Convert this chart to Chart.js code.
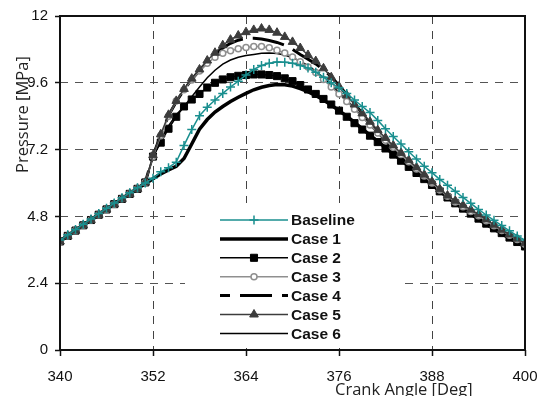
<!DOCTYPE html>
<html>
<head>
<meta charset="utf-8">
<script src="https://cdn.jsdelivr.net/npm/chart.js@4.4.1/dist/chart.umd.min.js"></script>
<style>
  body { margin: 0; background: #fff; }
  canvas { display: block; }
</style>
</head>
<body>
<canvas id="chart" width="538" height="396"></canvas>
<script>
// crank angle, one reading per degree
const angles = [];
for (let a = 340; a <= 400; a++) angles.push(a);

const xTicks = [340, 352, 364, 376, 388, 400];
const yTicks = [0, 2.4, 4.8, 7.2, 9.6, 12];
const yTickLabels = ['0', '2.4', '4.8', '7.2', '9.6', '12'];

const seriesNames = ['Baseline', 'Case 1', 'Case 2', 'Case 3', 'Case 4', 'Case 5', 'Case 6'];

const baseline = [3.95, 4.14, 4.33, 4.52, 4.71, 4.9, 5.09, 5.28, 5.47, 5.65, 5.83, 6.0,
  6.17, 6.4, 6.55, 6.75, 7.35, 7.92, 8.42, 8.72, 8.98, 9.22, 9.45, 9.66, 9.88, 10.08,
  10.22, 10.3, 10.35, 10.34, 10.3, 10.22, 10.13, 9.98, 9.8, 9.6, 9.42, 9.22, 8.98, 8.75,
  8.53, 8.25, 7.95, 7.67, 7.4, 7.12, 6.86, 6.6, 6.37, 6.13, 5.92, 5.7, 5.48, 5.27, 5.05,
  4.85, 4.66, 4.47, 4.28, 4.1, 3.95];
const case1 = [3.92, 4.11, 4.3, 4.49, 4.68, 4.87, 5.06, 5.25, 5.44, 5.62, 5.8, 5.97,
  6.15, 6.33, 6.47, 6.6, 6.88, 7.4, 7.93, 8.28, 8.55, 8.75, 8.93, 9.08, 9.22, 9.35,
  9.44, 9.5, 9.54, 9.53, 9.48, 9.39, 9.28, 9.14, 8.98, 8.8, 8.6, 8.4, 8.18, 7.95,
  7.72, 7.5, 7.27, 7.05, 6.83, 6.6, 6.38, 6.16, 5.94, 5.71, 5.49, 5.28, 5.08, 4.89, 4.7,
  4.52, 4.35, 4.18, 4.02, 3.86, 3.7];
const case2 = [3.9, 4.1, 4.29, 4.48, 4.67, 4.86, 5.05, 5.24, 5.43, 5.61, 5.79, 6.02,
  6.95, 7.45, 7.95, 8.38, 8.75, 9.0, 9.2, 9.43, 9.6, 9.72, 9.8, 9.85, 9.88, 9.9,
  9.9, 9.88, 9.84, 9.76, 9.66, 9.52, 9.36, 9.2, 9.02, 8.82, 8.6, 8.38, 8.15, 7.92,
  7.7, 7.47, 7.24, 7.02, 6.8, 6.58, 6.36, 6.14, 5.93, 5.7, 5.48, 5.27, 5.08, 4.9, 4.72,
  4.54, 4.37, 4.2, 4.04, 3.88, 3.72];
const case3 = [3.9, 4.1, 4.29, 4.48, 4.67, 4.86, 5.05, 5.24, 5.43, 5.61, 5.79, 6.02,
  6.95, 7.7, 8.4, 8.95, 9.35, 9.7, 10.02, 10.3, 10.52, 10.66, 10.75, 10.82, 10.87, 10.9,
  10.9, 10.86, 10.77, 10.67, 10.53, 10.36, 10.17, 9.97, 9.72, 9.45, 9.2, 8.93, 8.65, 8.35,
  8.08, 7.8, 7.54, 7.28, 7.02, 6.76, 6.5, 6.25, 6.0, 5.75, 5.52, 5.32, 5.15, 4.98, 4.82,
  4.64, 4.46, 4.29, 4.12, 3.97, 3.8];
const case4 = [3.9, 4.1, 4.29, 4.48, 4.67, 4.86, 5.05, 5.24, 5.43, 5.61, 5.79, 6.02,
  6.98, 7.72, 8.42, 8.92, 9.35, 9.72, 10.05, 10.35, 10.62, 10.85, 11.02, 11.13, 11.2, 11.2,
  11.17, 11.12, 11.05, 10.95, 10.8, 10.62, 10.45, 10.28, 10.07, 9.82, 9.5, 9.18, 8.85, 8.5,
  8.15, 7.83, 7.53, 7.25, 6.98, 6.72, 6.47, 6.22, 5.98, 5.72, 5.49, 5.28, 5.1, 4.93, 4.76,
  4.58, 4.4, 4.23, 4.07, 3.92, 3.76];
const case5 = [3.9, 4.1, 4.29, 4.48, 4.67, 4.86, 5.05, 5.24, 5.43, 5.61, 5.79, 6.02,
  7.0, 7.75, 8.45, 8.95, 9.38, 9.75, 10.08, 10.4, 10.68, 10.95, 11.15, 11.3, 11.42, 11.5,
  11.55, 11.5, 11.4, 11.25, 11.07, 10.85, 10.6, 10.38, 10.12, 9.8, 9.47, 9.15, 8.82, 8.5,
  8.2, 7.9, 7.62, 7.35, 7.08, 6.82, 6.56, 6.3, 6.05, 5.78, 5.55, 5.36, 5.2, 5.04, 4.87,
  4.69, 4.5, 4.32, 4.15, 4.0, 3.84];
const case6 = [3.9, 4.1, 4.29, 4.48, 4.67, 4.86, 5.05, 5.24, 5.43, 5.61, 5.79, 6.02,
  6.9, 7.55, 8.05, 8.45, 8.75, 9.1, 9.45, 9.78, 10.05, 10.27, 10.42, 10.52, 10.58, 10.62,
  10.66, 10.67, 10.65, 10.6, 10.5, 10.38, 10.22, 10.02, 9.78, 9.52, 9.25, 8.97, 8.68, 8.38,
  8.08, 7.78, 7.5, 7.22, 6.95, 6.68, 6.43, 6.18, 5.94, 5.7, 5.47, 5.26, 5.08, 4.9, 4.73,
  4.55, 4.38, 4.21, 4.05, 3.9, 3.74];

const toPoints = vals => vals.map((v, i) => ({ x: angles[i], y: v }));

const TEAL = '#1a8f8f';

const datasets = [
  { label: seriesNames[0], data: toPoints(baseline), borderColor: TEAL, borderWidth: 1.5,
    pointStyle: 'cross', pointRadius: 4.5, pointBorderColor: TEAL, pointBorderWidth: 1.5, order: 0 },
  { label: seriesNames[1], data: toPoints(case1), borderColor: '#000', borderWidth: 3.5,
    pointRadius: 0, order: 6 },
  { label: seriesNames[2], data: toPoints(case2), borderColor: '#000', borderWidth: 1.5,
    pointStyle: 'rect', pointRadius: 5, pointBackgroundColor: '#000', pointBorderColor: '#000',
    pointBorderWidth: 1, order: 5 },
  { label: seriesNames[3], data: toPoints(case3), borderColor: '#8f8f8f', borderWidth: 1.5,
    pointStyle: 'circle', pointRadius: 3, pointBackgroundColor: '#fff', pointBorderColor: '#8f8f8f',
    pointBorderWidth: 1.5, order: 2 },
  { label: seriesNames[4], data: toPoints(case4), borderColor: '#000', borderWidth: 3,
    borderDash: [32, 10], pointRadius: 0, order: 3 },
  { label: seriesNames[5], data: toPoints(case5), borderColor: '#3c3c3c', borderWidth: 1.5,
    pointStyle: 'triangle', pointRadius: 5, pointBackgroundColor: '#3c3c3c', pointBorderColor: '#3c3c3c',
    pointBorderWidth: 1, order: 1 },
  { label: seriesNames[6], data: toPoints(case6), borderColor: '#000', borderWidth: 1.5,
    pointRadius: 0, order: 4 }
];
datasets.forEach(d => { d.fill = false; d.tension = 0; });

// legend with line samples, frame and the two axis titles
const decor = {
  id: 'decor',
  afterDraw(chart) {
    const ctx = chart.ctx;
    const a = chart.chartArea;

    ctx.save();
    ctx.fillStyle = '#fff';
    ctx.fillRect(185, 203, 215, 145);

    chart.data.datasets.forEach((d, i) => {
      const y = 220 + i * 18.9;
      ctx.save();
      ctx.strokeStyle = d.borderColor;
      ctx.lineWidth = d.borderWidth;
      ctx.setLineDash(d.borderDash || []);
      ctx.lineDashOffset = d.borderDash ? 22 : 0;
      ctx.beginPath();
      ctx.moveTo(220, y);
      ctx.lineTo(288, y);
      ctx.stroke();
      ctx.setLineDash([]);
      if (d.pointRadius > 0) {
        ctx.fillStyle = d.pointBackgroundColor || d.pointBorderColor;
        ctx.strokeStyle = d.pointBorderColor;
        ctx.lineWidth = d.pointBorderWidth;
        Chart.helpers.drawPoint(ctx, {
          pointStyle: d.pointStyle, radius: d.pointRadius,
          borderWidth: d.pointBorderWidth, rotation: 0
        }, 254, y);
      }
      ctx.restore();
      ctx.fillStyle = '#111';
      ctx.font = 'bold 15.5px "Liberation Sans", Arial, sans-serif';
      ctx.textBaseline = 'middle';
      ctx.textAlign = 'left';
      ctx.fillText(d.label, 291, y + 1);
    });

    ctx.strokeStyle = '#111';
    ctx.lineWidth = 2;
    ctx.setLineDash([]);
    ctx.strokeRect(a.left, a.top, a.right - a.left, a.bottom - a.top);

    ctx.fillStyle = '#222';
    ctx.font = '16.5px "Open Sans", sans-serif';
    ctx.textBaseline = 'alphabetic';
    ctx.textAlign = 'left';
    ctx.fillText('Crank Angle [Deg]', 335, 395);

    ctx.translate(28, 173);
    ctx.rotate(-Math.PI / 2);
    ctx.fillText('Pressure [MPa]', 0, 0);
    ctx.restore();
  }
};

const tickFont = { family: '"Liberation Sans", Arial, sans-serif', size: 15 };

new Chart(document.getElementById('chart'), {
  type: 'line',
  data: { datasets: datasets },
  options: {
    responsive: false,
    animation: false,
    devicePixelRatio: 1,
    layout: { padding: { top: 16, right: 13, left: 0, bottom: 0 } },
    plugins: { legend: { display: false }, tooltip: { enabled: false } },
    scales: {
      x: {
        type: 'linear', min: 340, max: 400,
        afterBuildTicks: s => { s.ticks = xTicks.map(v => ({ value: v })); },
        afterFit: s => { s.height = 46; s.paddingRight = 0; s.paddingLeft = 0; },
        grid: { color: '#444', lineWidth: 1, tickLength: 6, tickColor: '#111', tickWidth: 1.5 },
        border: { display: false, dash: [8, 7] },
        ticks: { font: tickFont, color: '#111', padding: 12, maxRotation: 0,
          callback: v => String(v) }
      },
      y: {
        type: 'linear', min: 0, max: 12,
        afterBuildTicks: s => { s.ticks = yTicks.map(v => ({ value: v })); },
        afterFit: s => { s.width = 60; s.paddingTop = 0; s.paddingBottom = 0; },
        grid: { color: '#555', lineWidth: 1, tickLength: 5, tickColor: '#111', tickWidth: 1.5 },
        border: { display: false, dash: [8, 7] },
        ticks: { font: tickFont, color: '#111', padding: 7,
          callback: (v, i) => yTickLabels[i] }
      }
    }
  },
  plugins: [decor]
});
</script>
</body>
</html>
